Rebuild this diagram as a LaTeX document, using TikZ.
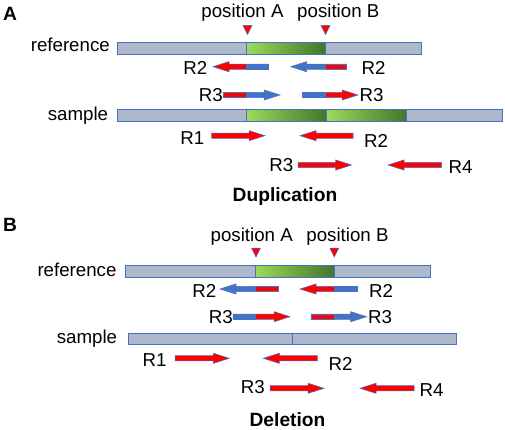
\documentclass[tikz,border=0pt]{standalone}
\usepackage{fontspec}
\setmainfont{Liberation Sans}
\definecolor{barfill}{HTML}{ADB9CA}
\definecolor{pblue}{HTML}{4472C4}
\definecolor{pred}{HTML}{FF0000}
\definecolor{glight}{HTML}{9BDB58}
\definecolor{gdark}{HTML}{43752A}
\tikzset{
  lbl/.style={inner sep=0pt, font=\fontsize{18.7}{22}\selectfont},
  bold lbl/.style={inner sep=0pt, font=\fontsize{19.2}{22}\selectfont\bfseries},
  primerline/.style={draw=pblue, line width=0.5pt, line join=miter},
  barstyle/.style={draw=pblue, line width=0.8pt},
  marker/.style={fill=pred, draw=pblue, line width=0.5pt},
}
\newcommand\primer[4]{%
  \pgfmathsetmacro\phx{#2-16*sign(#2-#1)}%
  \filldraw[primerline, fill=#4] (#1,#3-2.6) -- (\phx,#3-2.6) -- (\phx,#3-5.1) -- (#2,#3) -- (\phx,#3+5.1) -- (\phx,#3+2.6) -- (#1,#3+2.6) -- cycle;}
\newcommand\pseg[4]{\filldraw[primerline, fill=#4] (#1,#3-2.6) rectangle (#2,#3+2.6);}
\newcommand\posmark[2]{\filldraw[marker] (#1-4.5,#2) -- (#1+4.5,#2) -- (#1,#2+9) -- cycle;}
\begin{document}
\begin{tikzpicture}[x=1pt,y=-1pt]
\useasboundingbox (0,0) rectangle (505,430);
% ================= Panel A =================
\node[bold lbl, anchor=base west] (labA) at (3,20.7) {A};
\node[lbl, anchor=base] (posAa) at (242.5,17.3) {position A};
\node[lbl, anchor=base] (posBa) at (338.3,17.3) {position B};
\posmark{247.5}{25.5}
\posmark{325.5}{25.5}
\node[lbl, anchor=base east] (refa) at (110,51.7) {reference};
% reference bar
\fill[barfill] (117,42.7) rectangle (421.7,54.3);
\shade[left color=glight, right color=gdark] (246.7,42.7) rectangle (325,54.3);
\draw[barstyle] (117,42.7) rectangle (421.7,54.3);
\draw[barstyle] (246.7,42.7) -- (246.7,54.3) (325,42.7) -- (325,54.3);
% R2 row
\primer{268}{213}{66.7}{pred}
\pseg{246.7}{268}{66.7}{pblue}
\primer{346.7}{290.7}{66.7}{pblue}
\pseg{325}{346.7}{66.7}{pred}
\node[lbl, anchor=base east] (r2la) at (207.5,75) {R2};
\node[lbl, anchor=base west] (r2ra) at (361.5,75) {R2};
% R3 row
\primer{223}{280}{95}{pblue}
\pseg{223}{246.7}{95}{pred}
\primer{302.7}{358}{95}{pred}
\pseg{302.7}{325}{95}{pblue}
\node[lbl, anchor=base east] (r3la) at (223,102) {R3};
\node[lbl, anchor=base west] (r3ra) at (359.5,102) {R3};
% sample bar
\node[lbl, anchor=base east] (sampa) at (108.3,120.7) {sample};
\fill[barfill] (117,109.3) rectangle (502.7,121);
\shade[left color=glight, right color=gdark] (246.7,109.3) rectangle (326.7,121);
\shade[left color=glight, right color=gdark] (326.7,109.3) rectangle (406.7,121);
\draw[barstyle] (117,109.3) rectangle (502.7,121);
\draw[barstyle] (246.7,109.3) -- (246.7,121) (326.7,109.3) -- (326.7,121) (406.7,109.3) -- (406.7,121);
% sample primers
\primer{211.7}{265}{135.7}{pred}
\primer{353}{300}{135.7}{pred}
\primer{298}{351.7}{165}{pred}
\primer{441.7}{388}{165}{pred}
\node[lbl, anchor=base east] (r1a) at (204.5,144.3) {R1};
\node[lbl, anchor=base west] (r2a) at (364,147.7) {R2};
\node[lbl, anchor=base east] (r3a) at (293.5,171.5) {R3};
\node[lbl, anchor=base west] (r4a) at (448.3,174) {R4};
\node[bold lbl, anchor=base] (dup) at (285,201.5) {Duplication};
% ================= Panel B =================
\node[bold lbl, anchor=base west] (labB) at (3,231) {B};
\node[lbl, anchor=base] (posAb) at (251.7,241.7) {position A};
\node[lbl, anchor=base] (posBb) at (347.5,241.7) {position B};
\posmark{256}{248}
\posmark{334.3}{248}
\node[lbl, anchor=base east] (refb) at (116.7,276.7) {reference};
\fill[barfill] (125,265.7) rectangle (430,277.3);
\shade[left color=glight, right color=gdark] (255,265.7) rectangle (334.3,277.3);
\draw[barstyle] (125,265.7) rectangle (430,277.3);
\draw[barstyle] (255,265.7) -- (255,277.3) (334.3,265.7) -- (334.3,277.3);
% R2 row
\primer{278.3}{220}{289}{pblue}
\pseg{255}{278.3}{289}{pred}
\primer{357.3}{300}{289}{pred}
\pseg{334.3}{357.3}{289}{pblue}
\node[lbl, anchor=base east] (r2lb) at (216.5,297.3) {R2};
\node[lbl, anchor=base west] (r2rb) at (369,297.3) {R2};
% R3 row
\primer{233}{290}{316.7}{pred}
\pseg{233}{255}{316.7}{pblue}
\primer{311}{366.7}{316.7}{pblue}
\pseg{311}{334.3}{316.7}{pred}
\node[lbl, anchor=base east] (r3lb) at (233,323.5) {R3};
\node[lbl, anchor=base west] (r3rb) at (368,323.5) {R3};
% sample bar
\node[lbl, anchor=base east] (sampb) at (117.3,343) {sample};
\fill[barfill] (128.3,333.3) rectangle (456.7,344);
\draw[barstyle] (128.3,333.3) rectangle (456.7,344);
\draw[barstyle] (292.3,333.3) -- (292.3,344);
% sample primers
\primer{175}{229.3}{358.3}{pred}
\primer{317.3}{263.3}{358.3}{pred}
\primer{270}{324}{388.3}{pred}
\primer{414}{360}{388.3}{pred}
\node[lbl, anchor=base east] (r1b) at (166.7,366.7) {R1};
\node[lbl, anchor=base west] (r2b) at (328.3,370) {R2};
\node[lbl, anchor=base east] (r3b) at (265,393.3) {R3};
\node[lbl, anchor=base west] (r4b) at (419.3,396) {R4};
\node[bold lbl, anchor=base] (del) at (287.5,426.5) {Deletion};
\end{tikzpicture}
\end{document}
